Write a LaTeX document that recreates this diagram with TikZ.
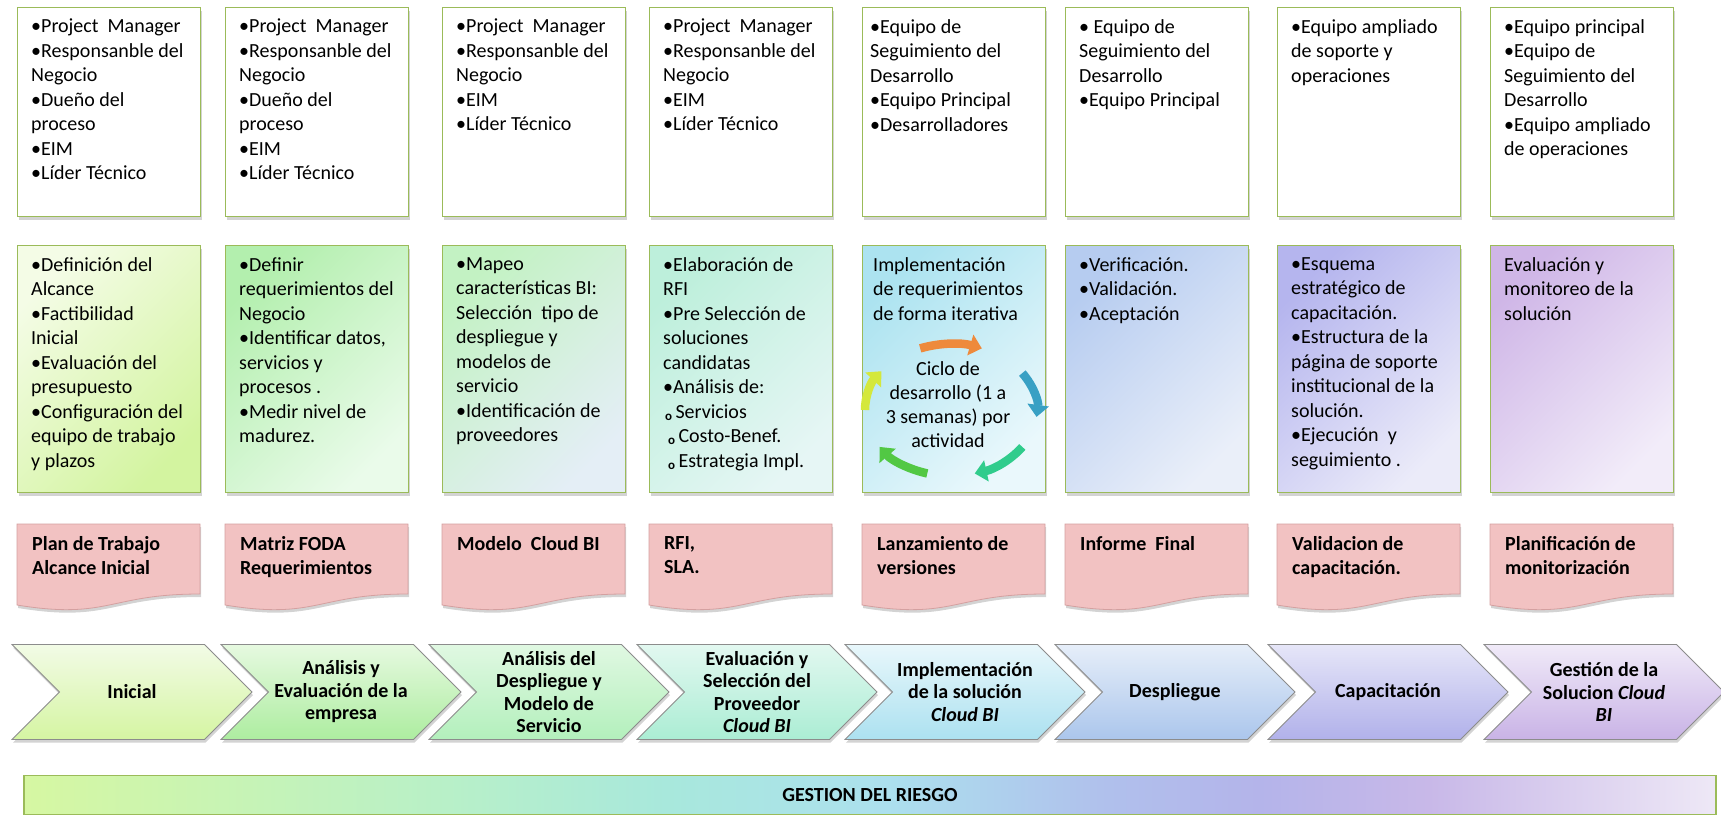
\documentclass[tikz,border=0pt]{standalone}
\usepackage{fontspec}
\setmainfont{Carlito}
\usetikzlibrary{shapes.symbols,shadows,arrows.meta}

\definecolor{framegreen}{HTML}{9BBB59}
\definecolor{pinkfill}{HTML}{F2C2C2}
\definecolor{pinkedge}{HTML}{D4A0A0}
\definecolor{chevedge}{HTML}{8C8C8C}
% middle boxes: top left / bottom right
\definecolor{mtl1}{HTML}{F4FCE6}\definecolor{mbr1}{HTML}{D3F4A0}
\definecolor{mtl2}{HTML}{B3EFAE}\definecolor{mbr2}{HTML}{EAFBEA}
\definecolor{mtl3}{HTML}{C3F2C3}\definecolor{mbr3}{HTML}{E4EEF6}
\definecolor{mtl4}{HTML}{BDEFDB}\definecolor{mbr4}{HTML}{E6F6F5}
\definecolor{mtl5}{HTML}{ACE3F0}\definecolor{mbr5}{HTML}{EAF8FC}
\definecolor{mtl6}{HTML}{B6CCF0}\definecolor{mbr6}{HTML}{EAEFF9}
\definecolor{mtl7}{HTML}{B5B5EE}\definecolor{mbr7}{HTML}{EBEBF9}
\definecolor{mtl8}{HTML}{CFB6E7}\definecolor{mbr8}{HTML}{F2ECF9}
% chevrons: top / bottom
\definecolor{ctop1}{HTML}{F2FBE6}\definecolor{cbot1}{HTML}{D5F5A2}
\definecolor{ctop2}{HTML}{E6F9E0}\definecolor{cbot2}{HTML}{ADEDA0}
\definecolor{ctop3}{HTML}{E0F8E2}\definecolor{cbot3}{HTML}{B3F0BC}
\definecolor{ctop4}{HTML}{E2F8F0}\definecolor{cbot4}{HTML}{ABEDD4}
\definecolor{ctop5}{HTML}{E8F7FB}\definecolor{cbot5}{HTML}{ACE1F0}
\definecolor{ctop6}{HTML}{E6EEF9}\definecolor{cbot6}{HTML}{ABC6EC}
\definecolor{ctop7}{HTML}{E6E6F8}\definecolor{cbot7}{HTML}{B1B1EA}
\definecolor{ctop8}{HTML}{F0EAF8}\definecolor{cbot8}{HTML}{C9B3E6}
% risk bar
\definecolor{rb1}{HTML}{D6F7A2}
\definecolor{rb2}{HTML}{B8F0C8}
\definecolor{rb3}{HTML}{A8E8DC}
\definecolor{rb4}{HTML}{ACE0EE}
\definecolor{rb5}{HTML}{B0C0EC}
\definecolor{rb6}{HTML}{B4B4EA}
\definecolor{rb7}{HTML}{C8B8E8}
\definecolor{rb8}{HTML}{EEE8F6}
% cycle arrows
\definecolor{cycorange}{HTML}{EE8A3C}
\definecolor{cycblue}{HTML}{38A0C4}
\definecolor{cycteal}{HTML}{30CC8C}
\definecolor{cycgreen}{HTML}{52C844}
\definecolor{cycyellow}{HTML}{D4E83C}

\pgfdeclarehorizontalshading{riskshade}{100bp}{color(0bp)=(rb1); color(25bp)=(rb1);
  color(37.5bp)=(rb2); color(44bp)=(rb3); color(50.5bp)=(rb4); color(57bp)=(rb5);
  color(61.5bp)=(rb6); color(66.5bp)=(rb7); color(75bp)=(rb8); color(100bp)=(rb8)}

\newcommand{\boxfont}{\fontsize{20}{24.5}\selectfont}
\newcommand{\phasefont}{\fontsize{20}{22.5}\selectfont\bfseries}
\newcommand{\subitm}{\raisebox{-2pt}{\fontsize{13}{13}\selectfont\bfseries o}\,}

\tikzset{
  softshadow/.style={drop shadow={shadow xshift=1pt, shadow yshift=-3pt, opacity=0.35}},
  frame/.style={anchor=north west, minimum width=183pt, inner sep=0pt, line width=1.2pt,
    draw=framegreen, softshadow},
  topframe/.style={frame, fill=white, minimum height=209pt},
  midframe/.style={frame, minimum height=247pt},
  boxtext/.style={anchor=north west, align=left, inner xsep=14pt, inner ysep=12pt, font=\boxfont},
  doctext/.style={boxtext, font=\boxfont\bfseries},
  docshape/.style={fill=pinkfill, draw=pinkedge, line width=0.8pt, softshadow},
  chev/.style={signal, signal to=east, signal from=west, signal pointer angle=90,
    draw=chevedge, line width=0.8pt, minimum width=240pt, minimum height=95pt,
    inner sep=0pt, align=center, font=\phasefont, softshadow},
  cyc/.style={line width=8.5pt, -{Triangle[length=12pt,width=21pt]}},
}

\begin{document}
\begin{tikzpicture}[x=1pt,y=-1pt]
  \useasboundingbox (0,0) rectangle (1721,815);

  % frames of the two upper rows
  \foreach \i/\x in {1/17,2/225,3/442,4/649,5/862,6/1065,7/1277,8/1490}{
    \node[topframe] (top\i) at (\x,7) {};
    \node[midframe, top color=mtl\i, bottom color=mbr\i, shading angle=45] (mid\i) at (\x,245) {};
  }

  % roles
  \node[boxtext] (top1t) at (top1.north west) {•Project\ \ Manager\\•Responsanble del\\Negocio\\•Dueño del\\proceso\\•EIM\\•Líder Técnico};
  \node[boxtext] (top2t) at (top2.north west) {•Project\ \ Manager\\•Responsanble del\\Negocio\\•Dueño del\\proceso\\•EIM\\•Líder Técnico};
  \node[boxtext] (top3t) at (top3.north west) {•Project\ \ Manager\\•Responsanble del\\Negocio\\•EIM\\•Líder Técnico};
  \node[boxtext] (top4t) at (top4.north west) {•Project\ \ Manager\\•Responsanble del\\Negocio\\•EIM\\•Líder Técnico};
  \node[boxtext, inner xsep=8pt] (top5t) at (top5.north west) {•Equipo de\\Seguimiento del\\Desarrollo\\•Equipo Principal\\•Desarrolladores};
  \node[boxtext] (top6t) at (top6.north west) {•\ Equipo de\\Seguimiento del\\Desarrollo\\•Equipo Principal};
  \node[boxtext] (top7t) at (top7.north west) {•Equipo ampliado\\de soporte y\\operaciones};
  \node[boxtext] (top8t) at (top8.north west) {•Equipo principal\\•Equipo de\\Seguimiento del\\Desarrollo\\•Equipo ampliado\\de operaciones};

  % activities
  \node[boxtext] (mid1t) at (mid1.north west) {•Definición del\\Alcance\\•Factibilidad\\Inicial\\•Evaluación del\\presupuesto\\•Configuración del\\equipo de trabajo\\y plazos};
  \node[boxtext] (mid2t) at (mid2.north west) {•Definir\\requerimientos del\\Negocio\\•Identificar datos,\\servicios y\\procesos .\\•Medir nivel de\\madurez.};
  \node[boxtext] (mid3t) at (mid3.north west) {•Mapeo\\características BI:\\Selección\ \ tipo de\\despliegue y\\modelos de\\servicio\\•Identificación de\\proveedores};
  \node[boxtext] (mid4t) at (mid4.north west) {•Elaboración de\\RFI\\•Pre Selección de\\soluciones\\candidatas\\•Análisis de:\\\hspace*{2pt}\subitm Servicios\\\hspace*{5pt}\subitm Costo-Benef.\\\hspace*{5pt}\subitm Estrategia Impl.};
  \node[boxtext, inner xsep=11pt] (mid5t) at (mid5.north west) {Implementación\\de requerimientos\\de forma iterativa};
  \node[boxtext] (mid6t) at (mid6.north west) {•Verificación.\\•Validación.\\•Aceptación};
  \node[boxtext] (mid7t) at (mid7.north west) {•Esquema\\estratégico de\\capacitación.\\•Estructura de la\\página de soporte\\institucional de la\\solución.\\•Ejecución\ \ y\\seguimiento .};
  \node[boxtext] (mid8t) at (mid8.north west) {Evaluación y\\monitoreo de la\\solución};

  % development cycle
  \node[align=center, font=\fontsize{20}{24}\selectfont] (cycle) at (948,405) {Ciclo de\\desarrollo (1 a\\3 semanas) por\\actividad};
  \draw[cyc, cycorange] (951,410) ++(-111:86 and 66) arc[start angle=-111, end angle=-69, x radius=86, y radius=66];
  \draw[cyc, cycblue] (951,410) ++(-34:86 and 66) arc[start angle=-34, end angle=6, x radius=86, y radius=66];
  \draw[cyc, cycteal] (951,410) ++(34:86 and 66) arc[start angle=34, end angle=74, x radius=86, y radius=66];
  \draw[cyc, cycgreen] (951,410) ++(106:86 and 66) arc[start angle=106, end angle=146, x radius=86, y radius=66];
  \draw[cyc, cycyellow] (951,410) ++(180:86 and 66) arc[start angle=180, end angle=216, x radius=86, y radius=66];

  % deliverables
  \foreach \i/\x/\txt in {1/17/{Plan de Trabajo\\Alcance Inicial}, 2/225/{Matriz FODA\\Requerimientos},
      3/442/{Modelo\ \ Cloud BI}, 4/649/{RFI,\\SLA.}, 5/862/{Lanzamiento de\\versiones},
      6/1065/{Informe\ \ Final}, 7/1277/{Validacion de\\capacitación.}, 8/1490/{Planificación de\\monitorización}}{
    \draw[docshape] (\x,524) -- (\x+183,524) -- (\x+183,594) .. controls (\x+91.5,594) and (\x+91.5,620) .. (\x,605) -- cycle;
    \node[doctext, inner xsep=15pt] (doc\i) at (\x,524) {\txt};
  }

  % phases
  \foreach \i/\x/\txt in {1/12/{Inicial}, 2/221/{Análisis y\\Evaluación de la\\empresa},
      3/429/{Análisis del\\Despliegue y\\Modelo de\\Servicio},
      4/637/{Evaluación y\\Selección del\\Proveedor\\\textit{Cloud BI}},
      5/845/{Implementación\\de la solución\\\textit{Cloud BI}}, 6/1055/{Despliegue},
      7/1268/{Capacitación}, 8/1484/{Gestión de la\\Solucion \textit{Cloud}\\\textit{BI}}}{
    \node[chev, top color=ctop\i, bottom color=cbot\i] (phase\i) at (\x+120,692) {\txt};
  }

  % risk management
  \node[draw=framegreen, line width=1.2pt, shading=riskshade, minimum width=1692pt, minimum height=39pt,
    inner sep=0pt, font=\boxfont\bfseries] (risk) at (870,795) {GESTION DEL RIESGO};
\end{tikzpicture}
\end{document}
